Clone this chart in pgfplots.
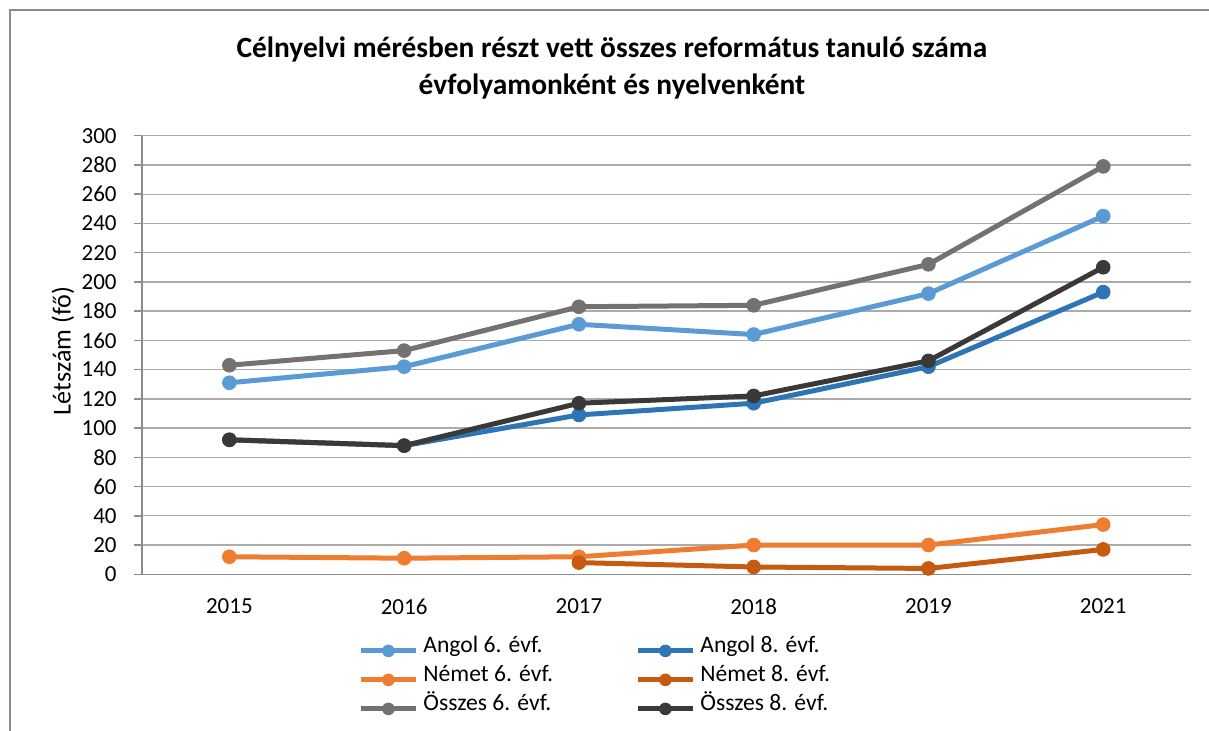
\documentclass[border=0pt]{standalone}
\usepackage{fontspec}
\setmainfont{Carlito}
\usepackage{pgfplots}
\pgfplotsset{compat=1.18}
\definecolor{angolhat}{HTML}{5B9BD5}
\definecolor{angolnyolc}{HTML}{2E75B6}
\definecolor{nemethat}{HTML}{ED7D31}
\definecolor{nemetnyolc}{HTML}{C55A11}
\definecolor{osszhat}{HTML}{767171}
\definecolor{osszn}{HTML}{3B3838}
\definecolor{gridc}{HTML}{ABABAB}
\definecolor{axc}{HTML}{8C8C8C}
\begin{document}
\begin{tikzpicture}[x=0.5pt,y=0.5pt]
\path[use as bounding box] (0,0) rectangle (1209,731);
\draw[axc, line width=0.8pt] (10,0) -- (10,721) -- (1209,721);
\node[font=\fontsize{14.7}{18.5}\selectfont\bfseries, align=center, anchor=base] at (612,636) {Célnyelvi mérésben részt vett összes református tanuló száma\\évfolyamonként és nyelvenként};
\node[font=\fontsize{13}{15}\selectfont, rotate=90] at (63,380) {Létszám (fő)};
\begin{axis}[
  at={(71pt,78.35pt)}, anchor=south west,
  scale only axis, width=524.3pt, height=219.3pt,
  xmin=-0.5, xmax=5.5, ymin=0, ymax=300,
  axis lines*=left,
  axis line style={axc, line width=0.7pt},
  ymajorgrids, grid style={gridc, line width=0.65pt},
  ytick={0,20,...,300},
  xtick={0,1,2,3,4,5},
  xticklabels={2015,2016,2017,2018,2019,2021},
  xtick style={draw=none},
  extra x ticks={-0.5,0.5,1.5,2.5,3.5,4.5,5.5},
  extra x tick labels={},
  extra x tick style={tick style={draw=axc, line width=0.7pt}},
  ytick style={axc, line width=0.7pt},
  tick align=outside, major tick length=4pt,
  ticklabel style={font=\fontsize{11.5}{13}\selectfont},
  /pgf/number format/assume math mode=true,
  yticklabel style={inner sep=0pt, xshift=-8.5pt},
  xticklabel style={inner sep=0pt, yshift=-8pt},
  legend columns=2,
  legend style={draw=none, fill=none, at={(0.206,-0.1407)}, anchor=north west,
    inner sep=0pt, column sep=2.5pt, row sep=0pt,
    font=\fontsize{11.8}{14}\selectfont,
    nodes={inner sep=0pt, text height=8pt, text depth=6.5pt, anchor=west}},
  legend cell align=left,
  legend image code/.code={\draw[mark repeat=2, mark phase=2, mark size=2.9pt, mark options={line width=0.5pt}] plot coordinates {(0pt,0pt) (13.75pt,0pt) (27.5pt,0pt)};},
  every axis plot/.append style={line width=2.5pt, mark=*, mark size=3.4pt},
]
\addplot[color=angolhat, mark options={fill=angolhat, line width=0.5pt}] coordinates {(0,131) (1,142) (2,171) (3,164) (4,192) (5,245)};
\addlegendentry{\makebox[103.5pt][l]{Angol 6. évf.}}
\addplot[color=angolnyolc, mark options={fill=angolnyolc, line width=0.5pt}] coordinates {(0,92) (1,88) (2,109) (3,117) (4,142) (5,193)};
\addlegendentry{Angol 8. évf.}
\addplot[color=nemethat, mark options={fill=nemethat, line width=0.5pt}] coordinates {(0,12) (1,11) (2,12) (3,20) (4,20) (5,34)};
\addlegendentry{\makebox[103.5pt][l]{Német 6. évf.}}
\addplot[color=nemetnyolc, mark options={fill=nemetnyolc, line width=0.5pt}] coordinates {(2,8) (3,5) (4,4) (5,17)};
\addlegendentry{Német 8. évf.}
\addplot[color=osszhat, mark options={fill=osszhat, line width=0.5pt}] coordinates {(0,143) (1,153) (2,183) (3,184) (4,212) (5,279)};
\addlegendentry{\makebox[103.5pt][l]{Összes 6. évf.}}
\addplot[color=osszn, mark options={fill=osszn, line width=0.5pt}] coordinates {(0,92) (1,88) (2,117) (3,122) (4,146) (5,210)};
\addlegendentry{Összes 8. évf.}
\end{axis}
\end{tikzpicture}
\end{document}
